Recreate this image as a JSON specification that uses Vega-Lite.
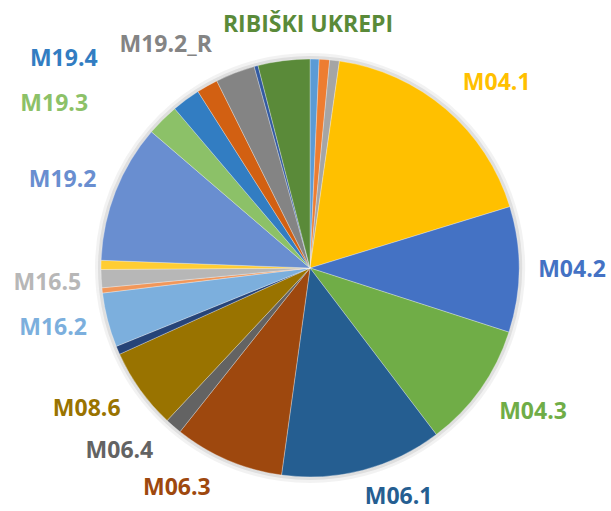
{
  "$schema": "https://vega.github.io/schema/vega-lite/v6.json",
  "width": 602,
  "height": 486,
  "autosize": {"type": "none"},
  "padding": {"left": 9, "top": 25, "right": 0, "bottom": 0},
  "background": "white",
  "view": {"stroke": null},
  "config": {
    "text": {"font": "Open Sans", "fontWeight": "bold", "fontSize": 23, "align": "center", "baseline": "middle", "radius": 255}
  },
  "data": {
    "values": [
      {"i": 1, "ukrep": "u1", "label": "", "delez": 0.7},
      {"i": 2, "ukrep": "u2", "label": "", "delez": 0.8},
      {"i": 3, "ukrep": "u3", "label": "", "delez": 0.75},
      {"i": 4, "ukrep": "M04.1", "label": "M04.1", "delez": 18.0},
      {"i": 5, "ukrep": "M04.2", "label": "M04.2", "delez": 9.7},
      {"i": 6, "ukrep": "M04.3", "label": "M04.3", "delez": 9.7},
      {"i": 7, "ukrep": "M06.1", "label": "M06.1", "delez": 12.5},
      {"i": 8, "ukrep": "M06.3", "label": "M06.3", "delez": 8.5},
      {"i": 9, "ukrep": "M06.4", "label": "M06.4", "delez": 1.3},
      {"i": 10, "ukrep": "M08.6", "label": "M08.6", "delez": 6.25},
      {"i": 11, "ukrep": "u11", "label": "", "delez": 0.65},
      {"i": 12, "ukrep": "M16.2", "label": "M16.2", "delez": 4.2},
      {"i": 13, "ukrep": "u13", "label": "", "delez": 0.4},
      {"i": 14, "ukrep": "M16.5", "label": "M16.5", "delez": 1.4},
      {"i": 15, "ukrep": "u15", "label": "", "delez": 0.7},
      {"i": 16, "ukrep": "M19.2", "label": "M19.2", "delez": 10.7},
      {"i": 17, "ukrep": "M19.3", "label": "M19.3", "delez": 2.5},
      {"i": 18, "ukrep": "M19.4", "label": "M19.4", "delez": 2.2},
      {"i": 19, "ukrep": "u19", "label": "", "delez": 1.65},
      {"i": 20, "ukrep": "M19.2_R", "label": "M19.2_R", "delez": 3.05},
      {"i": 21, "ukrep": "u21", "label": "", "delez": 0.3},
      {"i": 22, "ukrep": "RIBIŠKI UKREPI", "label": "RIBIŠKI UKREPI", "delez": 4.0}
    ]
  },
  "encoding": {
    "theta": {"field": "delez", "type": "quantitative", "stack": true},
    "order": {"field": "i", "type": "quantitative"},
    "color": {
      "field": "ukrep",
      "type": "nominal",
      "legend": null,
      "scale": {
        "domain": ["u1","u2","u3","M04.1","M04.2","M04.3","M06.1","M06.3","M06.4","M08.6","u11","M16.2","u13","M16.5","u15","M19.2","M19.3","M19.4","u19","M19.2_R","u21","RIBIŠKI UKREPI"],
        "range": ["#5B9BD5","#ED7D31","#A5A5A5","#FFC000","#4472C4","#70AD47","#255E91","#9E480E","#636363","#997300","#264478","#7CAFDD","#F1975A","#B7B7B7","#FFCD33","#698ED0","#8CC168","#327DC2","#D26012","#848484","#335AA1","#5A8A39"]
      }
    }
  },
  "layer": [
    {"mark": {"type": "arc", "radius": 215, "opacity": 0.05, "stroke": null}, "encoding": {"color": {"value": "#000000"}}},
    {"mark": {"type": "arc", "radius": 212, "opacity": 0.08, "stroke": null}, "encoding": {"color": {"value": "#000000"}}},
    {"mark": {"type": "arc", "radius": 209, "stroke": "white", "strokeWidth": 0.3}},
    {"mark": {"type": "text", "dx": 21, "dy": 9}, "encoding": {"text": {"condition": {"test": "datum.label === 'M04.1'", "field": "label"}, "value": ""}}},
    {"mark": {"type": "text", "dx": 7, "dy": 0}, "encoding": {"text": {"condition": {"test": "datum.label === 'M04.2'", "field": "label"}, "value": ""}}},
    {"mark": {"type": "text", "dx": 15, "dy": -4}, "encoding": {"text": {"condition": {"test": "datum.label === 'M04.3'", "field": "label"}, "value": ""}}},
    {"mark": {"type": "text", "dx": 24, "dy": -18}, "encoding": {"text": {"condition": {"test": "datum.label === 'M06.1'", "field": "label"}, "value": ""}}},
    {"mark": {"type": "text", "dx": -33, "dy": -14}, "encoding": {"text": {"condition": {"test": "datum.label === 'M06.3'", "field": "label"}, "value": ""}}},
    {"mark": {"type": "text", "dx": -24, "dy": -10}, "encoding": {"text": {"condition": {"test": "datum.label === 'M06.4'", "field": "label"}, "value": ""}}},
    {"mark": {"type": "text", "dx": -16, "dy": -7}, "encoding": {"text": {"condition": {"test": "datum.label === 'M08.6'", "field": "label"}, "value": ""}}},
    {"mark": {"type": "text", "dx": -10, "dy": -4}, "encoding": {"text": {"condition": {"test": "datum.label === 'M16.2'", "field": "label"}, "value": ""}}},
    {"mark": {"type": "text", "dx": -8, "dy": 2}, "encoding": {"text": {"condition": {"test": "datum.label === 'M16.5'", "field": "label"}, "value": ""}}},
    {"mark": {"type": "text", "dx": -10, "dy": 5}, "encoding": {"text": {"condition": {"test": "datum.label === 'M19.2'", "field": "label"}, "value": ""}}},
    {"mark": {"type": "text", "dx": -76, "dy": 17}, "encoding": {"text": {"condition": {"test": "datum.label === 'M19.3'", "field": "label"}, "value": ""}}},
    {"mark": {"type": "text", "dx": -95, "dy": -4}, "encoding": {"text": {"condition": {"test": "datum.label === 'M19.4'", "field": "label"}, "value": ""}}},
    {"mark": {"type": "text", "dx": -53, "dy": 15}, "encoding": {"text": {"condition": {"test": "datum.label === 'M19.2_R'", "field": "label"}, "value": ""}}},
    {"mark": {"type": "text", "dx": 30, "dy": 10}, "encoding": {"text": {"condition": {"test": "datum.label === 'RIBIŠKI UKREPI'", "field": "label"}, "value": ""}}}
  ]
}
